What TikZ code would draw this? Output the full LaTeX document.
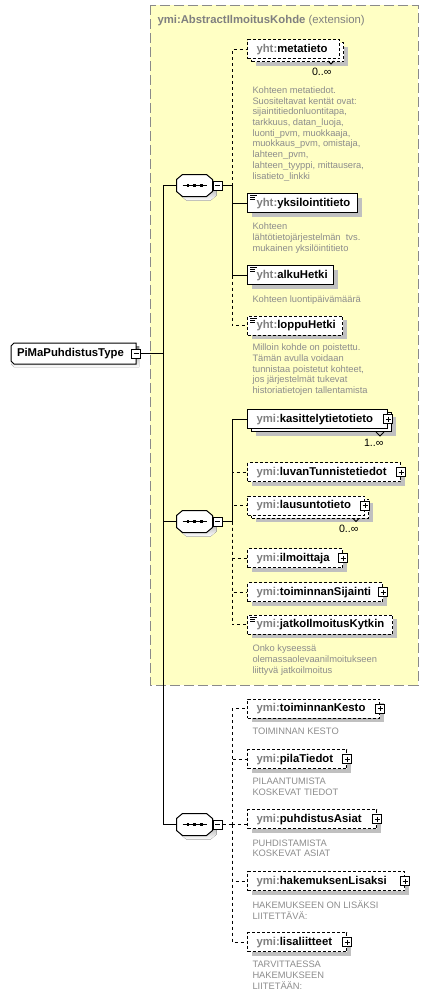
\documentclass[tikz,border=0pt]{standalone}
\usepackage{fontspec}
\setmainfont{Liberation Sans}
\usetikzlibrary{positioning,shadows}

\definecolor{extfill}{HTML}{FFFFC4}
\definecolor{extline}{HTML}{8A8A8A}
\definecolor{nsgray}{HTML}{808080}
\definecolor{descgray}{HTML}{8C8C8C}
\definecolor{shade}{HTML}{C0C0C0}

\newcommand{\lblfont}{\fontsize{8.5pt}{10pt}\selectfont\bfseries}
\newcommand{\descfont}{\fontsize{7pt}{8.05pt}\selectfont}
\newcommand{\ns}[1]{\textcolor{nsgray}{#1}}
% octagon of a sequence node
\newcommand{\octo}[1]{([xshift=4.5pt]#1.north west) -- ([xshift=-4.5pt]#1.north east)
  -- ([yshift=-3.75pt]#1.north east) -- ([yshift=3.75pt]#1.south east)
  -- ([xshift=-4.5pt]#1.south east) -- ([xshift=4.5pt]#1.south west)
  -- ([yshift=3.75pt]#1.south west) -- ([yshift=-3.75pt]#1.north west) -- cycle}
\newcommand{\seqoutline}[1]{%
  \fill[shade,transform canvas={shift={(3pt,-3pt)}}] \octo{#1};
  \draw[fill=white] \octo{#1};
  \draw (#1.center) +(-9pt,0pt) -- +(9pt,0pt);
  \fill[black] ([xshift=-4.9pt]#1.center) +(-1.1pt,-1.1pt) rectangle +(1.1pt,1.1pt);
  \fill[black] (#1.center) +(-1.1pt,-1.1pt) rectangle +(1.1pt,1.1pt);
  \fill[black] ([xshift=4.9pt]#1.center) +(-1.1pt,-1.1pt) rectangle +(1.1pt,1.1pt);}

\begin{document}
\begin{tikzpicture}[x=0.75pt,y=-0.75pt,line width=0.75pt,
  box/.style={draw,fill=white,anchor=west,minimum height=14.25pt,inner xsep=6.75pt,
    inner ysep=0pt,text height=6.6pt,text depth=1.4pt,font=\lblfont},
  elem/.style={box,text width=#1,
    drop shadow={shadow xshift=3pt,shadow yshift=-3pt,opacity=1,fill=shade,draw=none}},
  elems/.style={box,text width=#1,
    drop shadow={shadow xshift=6pt,shadow yshift=-5.25pt,opacity=1,fill=shade,draw=none},
    copy shadow={shadow xshift=3pt,shadow yshift=-2.25pt,draw,fill=white}},
  opt/.style={dash pattern=on 2.25pt off 1.5pt},
  optlink/.style={dash pattern=on 2.25pt off 2.25pt},
  icon/.style={path picture={
    \draw[solid,black,line width=0.75pt]
      ([shift={(1.9pt,-1.5pt)}]path picture bounding box.north west) -- ++(4.9pt,0pt)
      ([shift={(1.9pt,-3pt)}]path picture bounding box.north west) -- ++(3.75pt,0pt)
      ([shift={(1.9pt,-4.5pt)}]path picture bounding box.north west) -- ++(3.75pt,0pt);}},
  pm/.style={draw,fill=white,solid,minimum size=6.75pt,inner sep=0pt},
  minus/.style={pm,path picture={
    \draw ([xshift=1.5pt]path picture bounding box.west) -- ([xshift=-1.5pt]path picture bounding box.east);}},
  plus/.style={pm,path picture={
    \draw ([xshift=1.5pt]path picture bounding box.west) -- ([xshift=-1.5pt]path picture bounding box.east)
      ([yshift=-1.5pt]path picture bounding box.north) -- ([yshift=1.5pt]path picture bounding box.south);}},
  seq/.style={minimum width=26.25pt,minimum height=15.75pt,inner sep=0pt},
  rootbox/.style={minimum height=15.75pt,inner xsep=4.5pt,inner ysep=0pt,text width=84.75pt,
    text height=6.6pt,text depth=1.4pt,font=\lblfont},
  note/.style={anchor=north west,inner sep=0pt,align=left,font=\descfont,text=descgray},
  mult/.style={anchor=base east,inner sep=0pt,font=\fontsize{8pt}{9pt}\selectfont},
  notch/.style={solid,line width=0.6pt}]
\useasboundingbox (0,0) rectangle (432,996);

% extension area
\draw[fill=extfill,draw=extline,dash pattern=on 7.5pt off 3pt] (150,5) rectangle (418,685);
\node[anchor=base west,inner sep=0pt,font=\lblfont,text=nsgray] (ext) at (157,23)
  {ymi:AbstractIlmoitusKohde \mdseries(extension)};

% root type
\fill[shade] (14,346) -- (139,346) -- (139,367) -- (14,367) -- (11,364) -- (11,349) -- cycle;
\draw[fill=white] (14,343) -- (136,343) -- (136,364) -- (14,364) -- (11,361) -- (11,346) -- cycle;
\node[rootbox] (root) at (73.5,353.5) {PiMaPuhdistusType};
\node[minus] (root-m) at (136,353.5) {};

% sequences
\node[seq] (c1) at (194.5,185.5) {};
\seqoutline{c1}
\node[minus,right=0pt of c1] (c1m) {};
\node[seq] (c2) at (194.5,521.5) {};
\seqoutline{c2}
\node[minus,right=0pt of c2] (c2m) {};
\node[seq] (c3) at (194.5,824.5) {};
\seqoutline{c3}
\node[minus,right=0pt of c3] (c3m) {};

\coordinate (trunk) at (163,353.5);
\coordinate (b1) at (232,185.5);
\coordinate (b2) at (232,521.5);
\coordinate (b3) at (232,824.5);

% first sequence
\node[elems=55.5pt,opt] (meta) at (247,49) {\ns{yht:}metatieto};
\node[mult] (meta-n) at ([xshift=-6pt,yshift=-12pt]meta.south east) {0..∞};
\node[note] (meta-d) at (252,86) {Kohteen metatiedot.\\Suositeltavat kentät ovat:\\sijaintitiedonluontitapa,\\tarkkuus, datan\_luoja,\\luonti\_pvm, muokkaaja,\\muokkaus\_pvm, omistaja,\\lahteen\_pvm,\\lahteen\_tyyppi, mittausera,\\lisatieto\_linkki};
\node[elem=69pt,icon] (yks) at (247,203) {\ns{yht:}yksilointitieto};
\node[note] (yks-d) at (252,222.7) {Kohteen\\lähtötietojärjestelmän\ \ tvs.\\mukainen yksilöintitieto};
\node[elem=51pt,icon] (alku) at (247,275) {\ns{yht:}alkuHetki};
\node[note] (alku-d) at (252,295) {Kohteen luontipäivämäärä};
\node[elem=57.75pt,icon,opt] (loppu) at (247,325.5) {\ns{yht:}loppuHetki};
\node[note] (loppu-d) at (252,343.3) {Milloin kohde on poistettu.\\Tämän avulla voidaan\\tunnistaa poistetut kohteet,\\jos järjestelmät tukevat\\historiatietojen tallentamista};

% second sequence
\node[elems=91.5pt] (kas) at (247,419) {\ns{ymi:}kasittelytietotieto};
\node[plus] (kas-p) at (kas.east) {};
\node[mult] (kas-n) at ([xshift=-3pt,yshift=-12.75pt]kas.south east) {1..∞};
\node[elem=101.25pt,opt] (luvan) at (247,472) {\ns{ymi:}luvanTunnistetiedot};
\node[plus] (luvan-p) at (luvan.east) {};
\node[elems=74.25pt,opt] (laus) at (247,505.5) {\ns{ymi:}lausuntotieto};
\node[plus] (laus-p) at (laus.east) {};
\node[mult] (laus-n) at ([xshift=-4.5pt,yshift=-12.75pt]laus.south east) {0..∞};
\node[elem=57.75pt,opt] (ilmo) at (247,558) {\ns{ymi:}ilmoittaja};
\node[plus] (ilmo-p) at (ilmo.east) {};
\node[elem=87.75pt,opt] (tsij) at (247,592) {\ns{ymi:}toiminnanSijainti};
\node[plus] (tsij-p) at (tsij.east) {};
\node[elem=95.25pt,icon,opt] (jatko) at (247,624.5) {\ns{ymi:}jatkoIlmoitusKytkin};
\node[note] (jatko-d) at (252,644.3) {Onko kyseessä\\olemassaolevaanilmoitukseen\\liittyvä jatkoilmoitus};

% third sequence
\node[elem=85.5pt,opt] (tkesto) at (247,708.5) {\ns{ymi:}toiminnanKesto};
\node[plus] (tkesto-p) at (tkesto.east) {};
\node[note] (tkesto-d) at (252,727.3) {TOIMINNAN KESTO};
\node[elem=60.75pt,opt] (pila) at (247,759) {\ns{ymi:}pilaTiedot};
\node[plus] (pila-p) at (pila.east) {};
\node[note] (pila-d) at (252,777.3) {PILAANTUMISTA\\KOSKEVAT TIEDOT};
\node[elem=83.25pt,opt] (puhd) at (247,819) {\ns{ymi:}puhdistusAsiat};
\node[plus] (puhd-p) at (puhd.east) {};
\node[note] (puhd-d) at (252,839) {PUHDISTAMISTA\\KOSKEVAT ASIAT};
\node[elem=104.25pt,opt] (hake) at (247,881) {\ns{ymi:}hakemuksenLisaksi};
\node[plus] (hake-p) at (hake.east) {};
\node[note] (hake-d) at (252,900) {HAKEMUKSEEN ON LISÄKSI\\LIITETTÄVÄ:};
\node[elem=60.75pt,opt] (lisa) at (247,942) {\ns{ymi:}lisaliitteet};
\node[plus] (lisa-p) at (lisa.east) {};
\node[note] (lisa-d) at (252,960.7) {TARVITTAESSA\\HAKEMUKSEEN\\LIITETÄÄN:};

% notches of repeated elements
\draw[notch] ([shift={(-9pt,-1.5pt)}]meta.south east) -- ++(2.25pt,-2.25pt) -- ++(2.25pt,2.25pt);
\draw[notch] ([shift={(-9pt,-2.25pt)}]kas.south east) -- ++(3pt,-3pt) -- ++(3pt,3pt);
\draw[notch] ([shift={(-9pt,-2.25pt)}]laus.south east) -- ++(2.25pt,-2.25pt) -- ++(2.25pt,2.25pt);

% connectors
\draw (root-m.east) -- (trunk);
\draw (c1.west) -- (c1.west -| trunk) |- (c3.west);
\draw (c2.west) -- (c2.west -| trunk);
\draw (c1m.east) -- (b1);
\draw (c2m.east) -- (b2);
\draw[optlink] (c3m.east) -- (b3);

\draw[optlink] (b1) |- (meta.west);
\draw[optlink] (b1) |- (loppu.west);
\draw (b1) |- (yks.west);
\draw (b1) |- (alku.west);

\draw[optlink] (b2) |- (luvan.west);
\draw[optlink] (b2) |- (laus.west);
\draw[optlink] (b2) |- (ilmo.west);
\draw[optlink] (b2) |- (tsij.west);
\draw[optlink] (b2) |- (jatko.west);
\draw (b2) |- (kas.west);

\draw[optlink] (b3) |- (tkesto.west);
\draw[optlink] (b3) |- (pila.west);
\draw[optlink] (b3) -- (b3 -| puhd.west);
\draw[optlink] (b3) |- (hake.west);
\draw[optlink] (b3) |- (lisa.west);
\end{tikzpicture}
\end{document}
